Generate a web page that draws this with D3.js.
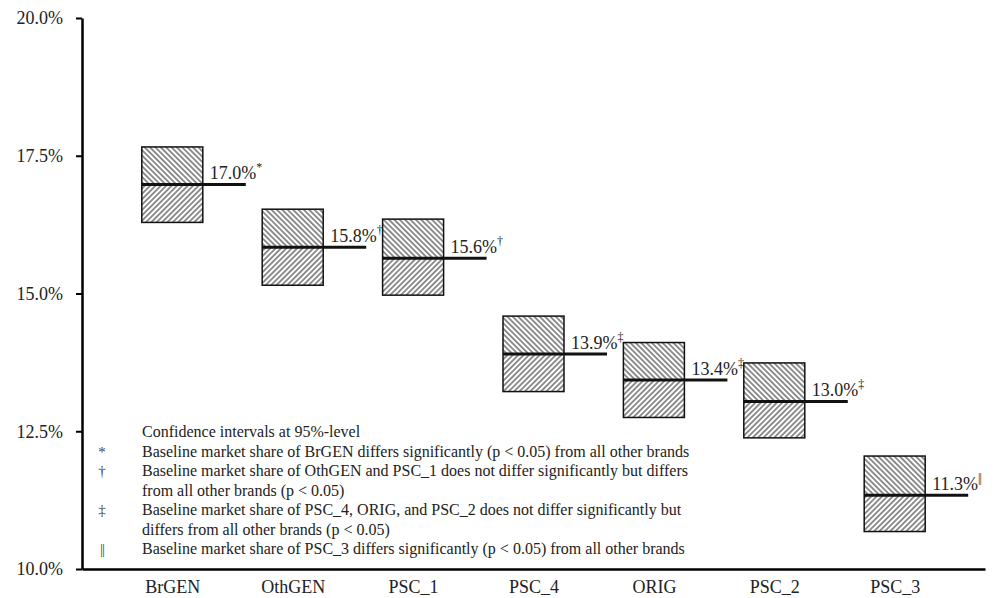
<!DOCTYPE html>
<html>
<head>
<meta charset="utf-8">
<script src="https://cdn.jsdelivr.net/npm/d3@7"></script>
<style>
  body { margin: 0; background: #fff; }
  svg { display: block; font-family: 'Liberation Serif', 'Times New Roman', serif; }
</style>
</head>
<body>
<script>
const width = 1003;
const height = 598;

// Data
const brands = ['BrGEN', 'OthGEN', 'PSC_1', 'PSC_4', 'ORIG', 'PSC_2', 'PSC_3'];
const shares = [16.98, 15.84, 15.64, 13.9, 13.43, 13.04, 11.34];
const lower = [16.29, 15.15, 14.97, 13.22, 12.75, 12.38, 10.68];
const upper = [17.66, 16.53, 16.35, 14.59, 14.11, 13.74, 12.05];
const marks = ['*', '\u2020', '\u2020', '\u2021', '\u2021', '\u2021', '||'];
const yTicks = [10, 12.5, 15, 17.5, 20];

const noteSymbols = ['', '*', '\u2020', '', '\u2021', '', '||'];
const noteTexts = [
  'Confidence intervals at 95%-level',
  'Baseline market share of BrGEN differs significantly (p < 0.05) from all other brands',
  'Baseline market share of OthGEN and PSC_1 does not differ significantly but differs',
  'from all other brands (p < 0.05)',
  'Baseline market share of PSC_4, ORIG, and PSC_2 does not differ significantly but',
  'differs from all other brands (p < 0.05)',
  'Baseline market share of PSC_3 differs significantly (p < 0.05) from all other brands'
];

const data = brands.map((b, i) => ({
  brand: b, share: shares[i], lo: lower[i], hi: upper[i], mark: marks[i]
}));

const svg = d3.select('body')
  .append('svg')
  .attr('width', width)
  .attr('height', height);

// Hatch patterns
const defs = svg.append('defs');
const hatch = (id, angle) => {
  const p = defs.append('pattern')
    .attr('id', id)
    .attr('patternUnits', 'userSpaceOnUse')
    .attr('width', 3.8)
    .attr('height', 3.8)
    .attr('patternTransform', `rotate(${angle})`);
  p.append('rect').attr('width', 3.8).attr('height', 3.8).attr('fill', '#fff');
  p.append('line')
    .attr('x1', 1.9).attr('y1', 0).attr('x2', 1.9).attr('y2', 3.8)
    .attr('stroke', '#222').attr('stroke-width', 1);
};
hatch('hatchBack', -45);
hatch('hatchFwd', 45);

const x = d3.scalePoint()
  .domain(brands)
  .range([82, 985])
  .padding(0.75);

const y = d3.scaleLinear()
  .domain([10, 20])
  .range([569, 18]);

const boxW = 61;

// y axis
const yAxis = svg.append('g')
  .attr('transform', 'translate(82,0)')
  .call(d3.axisLeft(y)
    .tickValues(yTicks)
    .tickSize(6)
    .tickSizeOuter(0)
    .tickPadding(13)
    .tickFormat(d => d.toFixed(1) + '%'));
yAxis.select('.domain').attr('stroke-width', 2.5);
yAxis.selectAll('.tick line').attr('stroke-width', 2);
yAxis.selectAll('.tick text')
  .attr('font-size', 18)
  .attr('font-family', "'Liberation Serif', serif")
  .attr('fill', '#222');

// x axis
const xAxis = svg.append('g')
  .attr('transform', 'translate(0,569)')
  .call(d3.axisBottom(x)
    .tickSize(0)
    .tickSizeOuter(0)
    .tickPadding(11));
xAxis.select('.domain').attr('stroke-width', 2.5);
xAxis.selectAll('.tick text')
  .attr('font-size', 18)
  .attr('font-family', "'Liberation Serif', serif")
  .attr('fill', '#222');

// boxes
const g = svg.append('g')
  .selectAll('g')
  .data(data)
  .enter()
  .append('g');

g.append('rect')
  .attr('x', d => x(d.brand) - boxW / 2)
  .attr('y', d => y(d.hi))
  .attr('width', boxW)
  .attr('height', d => y(d.share) - y(d.hi))
  .attr('fill', 'url(#hatchBack)');

g.append('rect')
  .attr('x', d => x(d.brand) - boxW / 2)
  .attr('y', d => y(d.share))
  .attr('width', boxW)
  .attr('height', d => y(d.lo) - y(d.share))
  .attr('fill', 'url(#hatchFwd)');

g.append('rect')
  .attr('x', d => x(d.brand) - boxW / 2)
  .attr('y', d => y(d.hi))
  .attr('width', boxW)
  .attr('height', d => y(d.lo) - y(d.hi))
  .attr('fill', 'none')
  .attr('stroke', '#111')
  .attr('stroke-width', 1.5);

g.append('line')
  .attr('x1', d => x(d.brand) - boxW / 2)
  .attr('x2', d => x(d.brand) + boxW / 2 + 43)
  .attr('y1', d => y(d.share))
  .attr('y2', d => y(d.share))
  .attr('stroke', '#111')
  .attr('stroke-width', 3);

const lbl = g.append('text')
  .attr('x', d => x(d.brand) + boxW / 2 + 7)
  .attr('y', d => y(d.share) - 5)
  .attr('font-size', 18)
  .attr('fill', '#222');
lbl.append('tspan').text(d => d.share.toFixed(1) + '%');
lbl.append('tspan')
  .attr('font-size', 12)
  .attr('dy', -8)
  .attr('letter-spacing', d => d.mark === '||' ? -1 : 0)
  .text(d => d.mark);

// notes
const notes = svg.append('g')
  .attr('font-size', 16)
  .attr('fill', '#222');
noteTexts.forEach((t, i) => {
  const yy = 437 + i * 19.5;
  if (noteSymbols[i]) {
    notes.append('text')
      .attr('x', 102)
      .attr('y', yy)
      .attr('text-anchor', 'middle')
      .attr('font-size', 15)
      .attr('letter-spacing', noteSymbols[i] === '||' ? -1 : 0)
      .attr('fill', '#444')
      .text(noteSymbols[i]);
  }
  notes.append('text')
    .attr('x', 142)
    .attr('y', yy)
    .text(t);
});
</script>
</body>
</html>
